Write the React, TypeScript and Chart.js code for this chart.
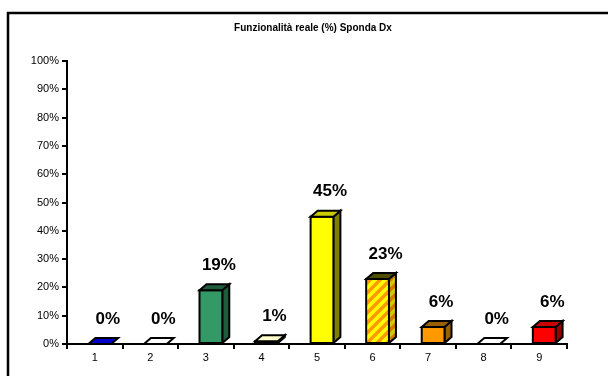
import { useEffect, useRef } from "react";
import { Chart, registerables } from "chart.js";

Chart.register(...registerables);

const chartTitle = "Funzionalità reale (%) Sponda Dx";
const categories = ["1", "2", "3", "4", "5", "6", "7", "8", "9"];
const values = [0, 0, 19, 1, 45, 23, 6, 0, 6];
const yMax = 100;
const yStep = 10;

const FONT = "'Liberation Sans', Arial, sans-serif";

function stripePattern(bg: string, fg: string): CanvasPattern | string {
  const s = 10;
  const cv = document.createElement("canvas");
  cv.width = s;
  cv.height = s;
  const g = cv.getContext("2d");
  if (!g) return bg;
  g.fillStyle = bg;
  g.fillRect(0, 0, s, s);
  g.strokeStyle = fg;
  g.lineWidth = 3.5;
  g.beginPath();
  g.moveTo(-s / 2, s / 2);
  g.lineTo(s / 2, -s / 2);
  g.moveTo(0, s);
  g.lineTo(s, 0);
  g.moveTo(s / 2, s * 1.5);
  g.lineTo(s * 1.5, s / 2);
  g.stroke();
  return g.createPattern(cv, "repeat") || bg;
}

export default function App() {
  const ref = useRef<HTMLCanvasElement | null>(null);

  useEffect(() => {
    if (!ref.current) return;

    const fronts: (string | CanvasPattern)[] = [
      "#000080", "#CCFFFF", "#339966", "#FFFF66", "#FFFF00",
      stripePattern("#FFFF00", "#FF9900"), "#FF9900", "#FFCCCC", "#FF0000",
    ];
    const sides: (string | CanvasPattern)[] = [
      "#000040", "#669999", "#1F5C3D", "#999900", "#808000",
      stripePattern("#CCCC00", "#CC7A00"), "#996000", "#996666", "#990000",
    ];
    const tops: (string | CanvasPattern)[] = [
      "#0000CC", "#FFFFFF", "#1F5C3D", "#FFFFCC", "#CCCC00",
      "#4D4D00", "#996000", "#FFFFFF", "#CC0000",
    ];

    const frame = {
      id: "frame",
      beforeDraw(chart: any) {
        const ctx = chart.ctx;
        ctx.save();
        ctx.fillStyle = "#FFFFFF";
        ctx.fillRect(0, 0, chart.width, chart.height);
        ctx.strokeStyle = "#000000";
        ctx.lineWidth = 2.5;
        ctx.strokeRect(8, 13, chart.width + 20, chart.height + 20);
        const ca = chart.chartArea;
        ctx.fillStyle = "#000";
        ctx.font = `bold 10px ${FONT}`;
        ctx.textAlign = "center";
        ctx.textBaseline = "middle";
        ctx.fillText(chartTitle, (ca.left + ca.right) / 2 - 4, 28);
        ctx.restore();
      },
    };

    const bars3d = {
      id: "bars3d",
      afterDatasetsDraw(chart: any) {
        const ctx = chart.ctx;
        const meta = chart.getDatasetMeta(0);
        const dx = 7;
        const dy = 6;
        const shift = 5;
        ctx.save();
        ctx.lineWidth = 2;
        ctx.strokeStyle = "#000";
        ctx.lineJoin = "miter";
        meta.data.forEach((el: any, i: number) => {
          const p = el.getProps(["x", "y", "base", "width"], true);
          const l = p.x - p.width / 2 + shift;
          const r = p.x + p.width / 2 + shift;
          const top = Math.min(p.y, p.base);
          const base = p.base;
          if (base - top > 0.5) {
            ctx.beginPath();
            ctx.moveTo(r, top);
            ctx.lineTo(r + dx, top - dy);
            ctx.lineTo(r + dx, base - dy);
            ctx.lineTo(r, base);
            ctx.closePath();
            ctx.fillStyle = sides[i];
            ctx.fill();
            ctx.stroke();
            ctx.fillStyle = fronts[i];
            ctx.fillRect(l, top, r - l, base - top);
            ctx.strokeRect(l, top, r - l, base - top);
          }
          ctx.beginPath();
          ctx.moveTo(l, top);
          ctx.lineTo(l + dx, top - dy);
          ctx.lineTo(r + dx, top - dy);
          ctx.lineTo(r, top);
          ctx.closePath();
          ctx.fillStyle = tops[i];
          ctx.fill();
          ctx.stroke();

          ctx.fillStyle = "#000";
          ctx.font = `bold 17px ${FONT}`;
          ctx.textAlign = "center";
          ctx.textBaseline = "middle";
          ctx.fillText(`${values[i]}%`, p.x + 13, p.y - 25);
        });
        ctx.restore();
      },
    };

    const chart = new Chart(ref.current, {
      type: "bar",
      data: {
        labels: categories,
        datasets: [
          {
            label: chartTitle,
            data: values,
            backgroundColor: "rgba(0,0,0,0)",
            borderWidth: 0,
            categoryPercentage: 1,
            barPercentage: 0.41,
          },
        ],
      },
      options: {
        animation: false,
        responsive: true,
        maintainAspectRatio: false,
        layout: { padding: { top: 61, right: 41, left: 0, bottom: 0 } },
        plugins: {
          legend: { display: false },
          title: { display: false },
          tooltip: { enabled: false },
        },
        scales: {
          x: {
            afterFit(scale: any) {
              scale.height = 32;
            },
            grid: {
              display: true,
              drawOnChartArea: false,
              drawTicks: true,
              tickLength: 5,
              color: "#000",
              lineWidth: 2,
              offset: true,
            },
            border: { display: true, color: "#000", width: 2 },
            ticks: {
              color: "#000",
              font: { family: FONT, size: 11 },
              padding: 2,
            },
          },
          y: {
            min: 0,
            max: yMax,
            afterFit(scale: any) {
              scale.width = 67;
            },
            grid: {
              display: true,
              drawOnChartArea: false,
              drawTicks: true,
              tickLength: 5,
              color: "#000",
              lineWidth: 2,
            },
            border: { display: true, color: "#000", width: 2 },
            ticks: {
              stepSize: yStep,
              color: "#000",
              font: { family: FONT, size: 11 },
              padding: 3,
              callback: (v: any) => `${v}%`,
            },
          },
        },
      },
      plugins: [frame, bars3d],
    });

    return () => chart.destroy();
  }, []);

  return (
    <div style={{ position: "absolute", left: 0, top: 0, width: 608, height: 376 }}>
      <canvas ref={ref} width={608} height={376} />
    </div>
  );
}
